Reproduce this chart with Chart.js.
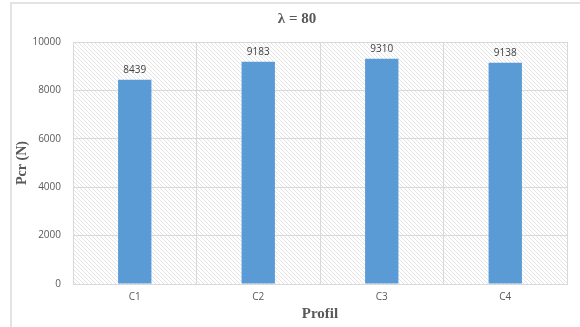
<!DOCTYPE html>
<html>
<head>
<meta charset="utf-8">
<script src="https://cdn.jsdelivr.net/npm/chart.js@4"></script>
<style>
  html, body { margin: 0; padding: 0; background: #fff; }
  #wrap { position: relative; width: 580px; height: 327px; overflow: hidden; }
  #frame { position: absolute; left: 10px; top: 2px; width: 600px; height: 340px;
           border-left: 2px solid #e3e3e3; border-top: 2px solid #e3e3e3; }
  canvas { position: absolute; left: 0; top: 0; }
</style>
</head>
<body>
<div id="wrap">
  <div id="frame"></div>
  <canvas id="myChart" width="580" height="327"></canvas>
</div>
<script>
const categories = ['C1', 'C2', 'C3', 'C4'];
const pcrValues = [8439, 9183, 9310, 9138];
const yTicks = [0, 2000, 4000, 6000, 8000, 10000];
const chartTitle = 'λ = 80';
const yTitle = 'Pcr (N)';
const xTitle = 'Profil';

const gray = '#595959';
const gridColor = '#d9d9d9';

// diagonal hatch used behind the bars
function makeHatch() {
    const c = document.createElement('canvas');
    c.width = 4; c.height = 4;
    const g = c.getContext('2d');
    g.fillStyle = '#ffffff';
    g.fillRect(0, 0, 4, 4);
    g.fillStyle = '#e4e4e4';
    for (let i = 0; i < 4; i++) g.fillRect(i, i, 1, 1);
    return g.createPattern(c, 'repeat');
}

const hatchPlugin = {
    id: 'hatch',
    beforeDraw(chart) {
        const { ctx, chartArea: a } = chart;
        ctx.save();
        ctx.fillStyle = makeHatch();
        ctx.fillRect(a.left, a.top, a.right - a.left, a.bottom - a.top);
        ctx.restore();
    }
};

const topTitle = {
    id: 'topTitle',
    afterDraw(chart) {
        const { ctx } = chart;
        ctx.save();
        ctx.font = 'bold 15px "Liberation Serif"';
        ctx.fillStyle = gray;
        ctx.textAlign = 'center';
        ctx.textBaseline = 'middle';
        ctx.fillText(chartTitle, 297, 19);
        ctx.restore();
    }
};

const valueLabels = {
    id: 'valueLabels',
    afterDatasetsDraw(chart) {
        const { ctx } = chart;
        const meta = chart.getDatasetMeta(0);
        ctx.save();
        ctx.font = '10px "Open Sans"';
        ctx.fillStyle = '#404040';
        ctx.textAlign = 'center';
        ctx.textBaseline = 'bottom';
        meta.data.forEach((bar, i) => {
            ctx.fillText(String(pcrValues[i]), bar.x, bar.y - 5);
        });
        ctx.restore();
    }
};

const ctx = document.getElementById('myChart').getContext('2d');
new Chart(ctx, {
    type: 'bar',
    data: {
        labels: categories,
        datasets: [{
            data: pcrValues,
            backgroundColor: '#5b9bd5',
            borderWidth: 0,
            barPercentage: 0.9,
            categoryPercentage: 0.3
        }]
    },
    options: {
        responsive: false,
        animation: false,
        layout: { padding: { top: 42, right: 13, left: 0, bottom: 0 } },
        plugins: {
            legend: { display: false },
            title: { display: false },
            tooltip: { enabled: false }
        },
        scales: {
            x: {
                grid: { color: gridColor, offset: true, drawTicks: false },
                border: { color: gridColor },
                ticks: { color: gray, font: { family: 'Open Sans', size: 10 }, padding: 7 },
                title: {
                    display: true, text: xTitle, color: gray,
                    font: { family: 'Liberation Serif', size: 15, weight: 'bold' },
                    padding: { top: 0, bottom: 4 }
                },
                afterFit(s) { s.height = 43; }
            },
            y: {
                min: 0,
                max: 10000,
                grid: { color: gridColor, drawTicks: false },
                border: { color: gridColor },
                afterBuildTicks(s) { s.ticks = yTicks.map(v => ({ value: v })); },
                ticks: {
                    color: gray, font: { family: 'Open Sans', size: 10 }, padding: 12,
                    callback: v => String(v)
                },
                title: {
                    display: true, text: yTitle, color: gray,
                    font: { family: 'Liberation Serif', size: 14, weight: 'bold' },
                    padding: { top: 14, bottom: 0 }
                },
                afterFit(s) { s.width = 73; }
            }
        }
    },
    plugins: [hatchPlugin, valueLabels, topTitle]
});
</script>
</body>
</html>
